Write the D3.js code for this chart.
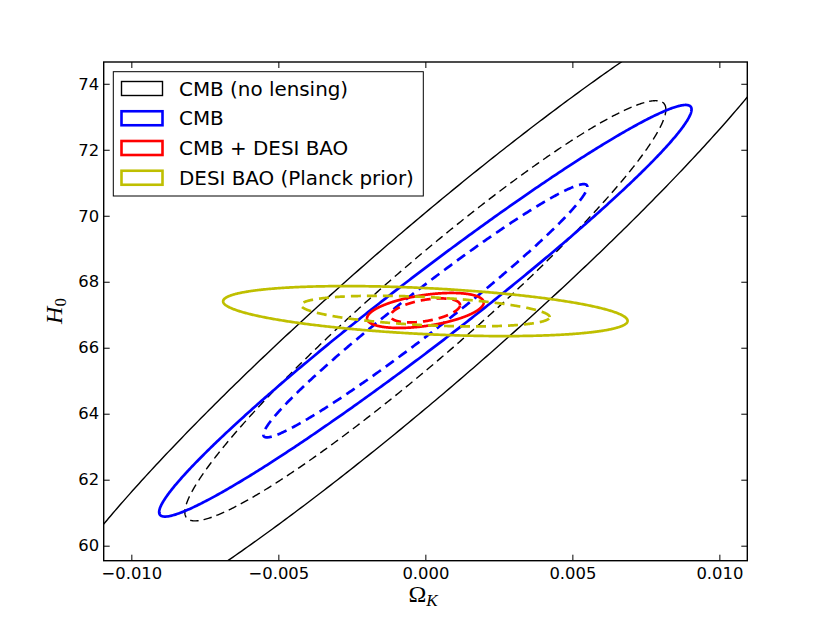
<!DOCTYPE html>
<html><head><meta charset="utf-8">
<script src="https://cdn.jsdelivr.net/npm/d3@7"></script>
<style>body{margin:0;background:#fff} svg{display:block}</style>
</head><body><svg id="chart" width="830" height="623"></svg>
<script>
// ---- data ----
const contourLabels = ["CMB (no lensing)", "CMB", "CMB + DESI BAO", "DESI BAO (Planck prior)"];
const contourColors = ["#000000", "#0000ff", "#ff0000", "#bfbf00"];
const centerOmegaK = [0.0, 0.0, 0.0, 0.0];
const centerH0 = [67.12, 67.12, 67.13, 67.11];
// half-extent of the outer (solid) contour
const outerHalfOmegaK = [0.01331, 0.009054, 0.001983, 0.006878];
const outerHalfH0 = [10.36, 6.238, 0.530, 0.758];
// half-extent of the inner (dashed) contour
const innerHalfOmegaK = [0.00818, 0.00551, 0.00118, 0.004228];
const innerHalfH0 = [6.368, 3.838, 0.364, 0.464];
// correlation between Omega_K and H0
const correlation = [0.958, 0.978, 0.45, -0.39];

const xTicks = [-0.010, -0.005, 0.000, 0.005, 0.010];
const yTicks = [60, 62, 64, 66, 68, 70, 72, 74];
const xDomain = [-0.01094, 0.01095];
const yDomain = [59.545, 74.66];

// ---- layout ----
const svg = d3.select("#chart");
const frame = {left: 103.7, right: 747.3, top: 62, bottom: 560.7};
const x = d3.scaleLinear().domain(xDomain).range([frame.left, frame.right]);
const y = d3.scaleLinear().domain(yDomain).range([frame.bottom, frame.top]);

svg.append("rect").attr("width", 830).attr("height", 623).attr("fill", "#fff");

svg.append("defs").append("clipPath").attr("id", "plotclip")
  .append("rect").attr("x", frame.left).attr("y", frame.top)
  .attr("width", frame.right - frame.left).attr("height", frame.bottom - frame.top);

const plot = svg.append("g").attr("clip-path", "url(#plotclip)");

function ellipsePoints(cx, cy, a, b, rho) {
  const n = 720, pts = [];
  const s = Math.sqrt(1 - rho * rho);
  for (let i = 0; i < n; i++) {
    const t = 2 * Math.PI * i / n;
    pts.push([cx + a * Math.cos(t), cy + b * (rho * Math.cos(t) + s * Math.sin(t))]);
  }
  return pts;
}
const line = d3.line().x(d => x(d[0])).y(d => y(d[1])).curve(d3.curveLinearClosed);

contourLabels.forEach((lab, i) => {
  const lw = i === 0 ? 1.4 : 2.7;
  plot.append("path")
    .attr("d", line(ellipsePoints(centerOmegaK[i], centerH0[i], outerHalfOmegaK[i], outerHalfH0[i], correlation[i])))
    .attr("fill", "none").attr("stroke", contourColors[i]).attr("stroke-width", lw);
  plot.append("path")
    .attr("d", line(ellipsePoints(centerOmegaK[i], centerH0[i], innerHalfOmegaK[i], innerHalfH0[i], correlation[i])))
    .attr("fill", "none").attr("stroke", contourColors[i]).attr("stroke-width", lw)
    .attr("stroke-dasharray", i === 0 ? "8.5,5" : "10,6");
});

// ---- axes ----
const fmtX = d => (d < 0 ? "\u2212" : "") + Math.abs(d).toFixed(3);
function styleAxis(g) {
  g.select(".domain").remove();
  g.selectAll(".tick line").attr("stroke", "#000").attr("stroke-width", 1);
  g.selectAll("text").attr("font-family", "'DejaVu Sans', sans-serif").attr("font-size", 16.4).attr("fill", "#000");
  g.attr("font-family", null).attr("font-size", null);
}
svg.append("g").attr("transform", `translate(0,${frame.bottom})`)
  .call(d3.axisBottom(x).tickValues(xTicks).tickSizeInner(-6).tickSizeOuter(0).tickPadding(7).tickFormat(fmtX))
  .call(styleAxis);
svg.append("g").attr("transform", `translate(0,${frame.top})`)
  .call(d3.axisTop(x).tickValues(xTicks).tickSizeInner(-6).tickSizeOuter(0).tickFormat(() => ""))
  .call(styleAxis);
svg.append("g").attr("transform", `translate(${frame.left},0)`)
  .call(d3.axisLeft(y).tickValues(yTicks).tickSizeInner(-6).tickSizeOuter(0).tickPadding(4.5).tickFormat(d => d))
  .call(styleAxis);
svg.append("g").attr("transform", `translate(${frame.right},0)`)
  .call(d3.axisRight(y).tickValues(yTicks).tickSizeInner(-6).tickSizeOuter(0).tickFormat(() => ""))
  .call(styleAxis);

svg.append("rect").attr("x", frame.left).attr("y", frame.top)
  .attr("width", frame.right - frame.left).attr("height", frame.bottom - frame.top)
  .attr("fill", "none").attr("stroke", "#000").attr("stroke-width", 1.4);

// axis labels
const xl = svg.append("text").attr("x", 423).attr("y", 601.5).attr("text-anchor", "middle")
  .attr("font-family", "'Liberation Serif', serif").attr("font-size", 24);
xl.append("tspan").text("\u03A9");
xl.append("tspan").attr("font-style", "italic").attr("font-size", 17).attr("dy", 4).text("K");

const yl = svg.append("text").attr("transform", "translate(62,311) rotate(-90)").attr("text-anchor", "middle")
  .attr("font-family", "'Liberation Serif', serif").attr("font-size", 24);
yl.append("tspan").attr("font-style", "italic").text("H");
yl.append("tspan").attr("font-size", 17).attr("dy", 4).text("0");

// ---- legend ----
const lg = svg.append("g");
lg.append("rect").attr("x", 113.3).attr("y", 71.7).attr("width", 310).attr("height", 124.3)
  .attr("fill", "#fff").attr("stroke", "#000").attr("stroke-width", 1);
contourLabels.forEach((lab, i) => {
  const cy = 88.5 + i * 29.75;
  lg.append("rect").attr("x", 121.5).attr("y", cy - 7).attr("width", 41).attr("height", 14)
    .attr("fill", "none").attr("stroke", contourColors[i]).attr("stroke-width", i === 0 ? 1.4 : 2.6);
  lg.append("text").attr("x", 179).attr("y", cy + 7.1)
    .attr("font-family", "'DejaVu Sans', sans-serif").attr("font-size", 19.9).attr("fill", "#000")
    .text(lab);
});
</script></body></html>
